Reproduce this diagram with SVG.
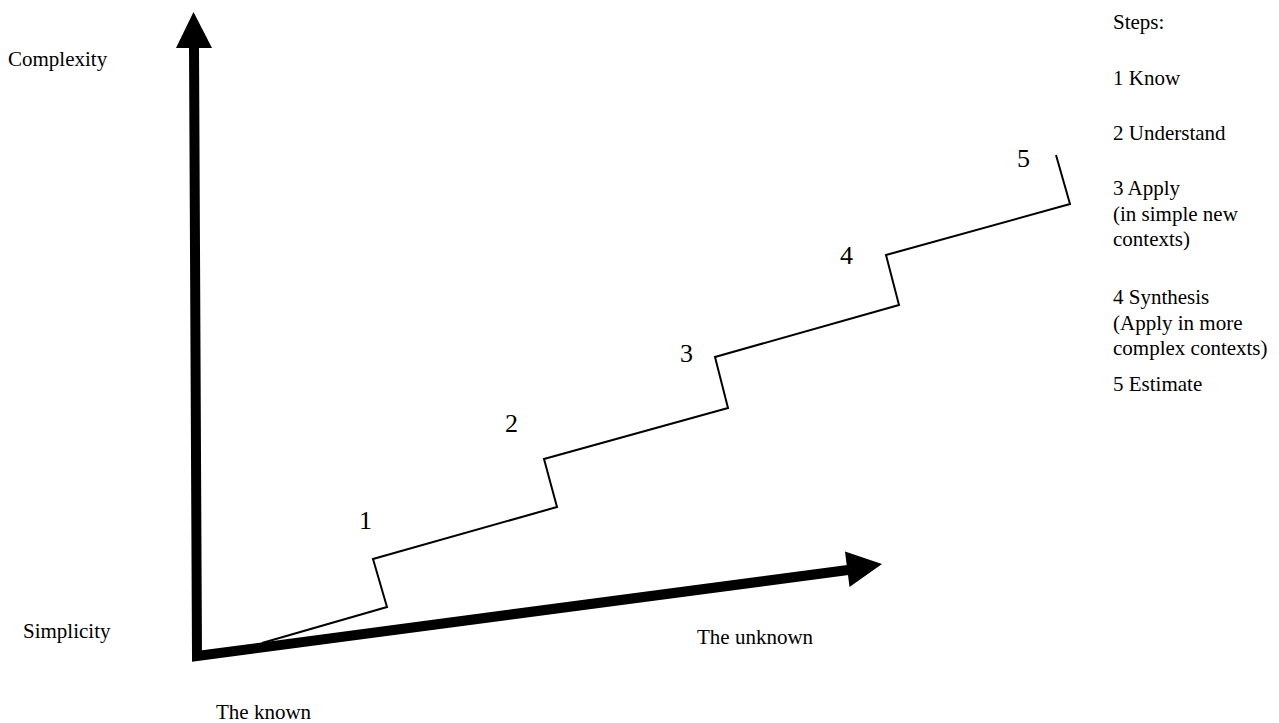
<svg xmlns="http://www.w3.org/2000/svg" width="1279" height="723" viewBox="0 0 1279 723">
<style>
.lbl{font-family:"Liberation Serif","Times New Roman",serif;font-size:21px;fill:#000}
.num{font-family:"Liberation Serif","Times New Roman",serif;font-size:26px;fill:#000}
.axis{fill:none;stroke:#000;stroke-width:10;stroke-linejoin:miter;stroke-miterlimit:10}
.stair{fill:none;stroke:#000;stroke-width:2;stroke-linejoin:miter}
</style>
<rect width="1279" height="723" fill="#fff"/>
<g id="connectors">
  <g id="axes">
    <path class="axis" d="M194,46 L197,656 L848,570"/>
    <polygon points="193.5,12 212,48 176,48" fill="#000"/>
    <polygon points="882,564 849.5,587 845,551.5" fill="#000"/>
  </g>
  <polyline id="staircase" class="stair" points="262,643 387,607 373,559 557,507 544,459 728,408 715,357 899,305 886,255 1070,204 1056,155"/>
</g>
<g id="axis-labels">
  <text class="lbl" x="8" y="66">Complexity</text>
  <text class="lbl" x="23" y="638">Simplicity</text>
  <text class="lbl" x="697" y="644">The unknown</text>
  <text class="lbl" x="216" y="719">The known</text>
</g>
<g id="step-numbers">
  <text class="num" x="359" y="529">1</text>
  <text class="num" x="505" y="432">2</text>
  <text class="num" x="680" y="362">3</text>
  <text class="num" x="840" y="264">4</text>
  <text class="num" x="1017" y="167">5</text>
</g>
<g id="legend">
  <text class="lbl" x="1113" y="29">Steps:</text>
  <text class="lbl" x="1113" y="85">1 Know</text>
  <text class="lbl" x="1113" y="140">2 Understand</text>
  <text class="lbl" x="1113" y="195">3 Apply</text>
  <text class="lbl" x="1113" y="221">(in simple new</text>
  <text class="lbl" x="1113" y="246">contexts)</text>
  <text class="lbl" x="1113" y="304">4 Synthesis</text>
  <text class="lbl" x="1113" y="330">(Apply in more</text>
  <text class="lbl" x="1113" y="355">complex contexts)</text>
  <text class="lbl" x="1113" y="391">5 Estimate</text>
</g>
</svg>
